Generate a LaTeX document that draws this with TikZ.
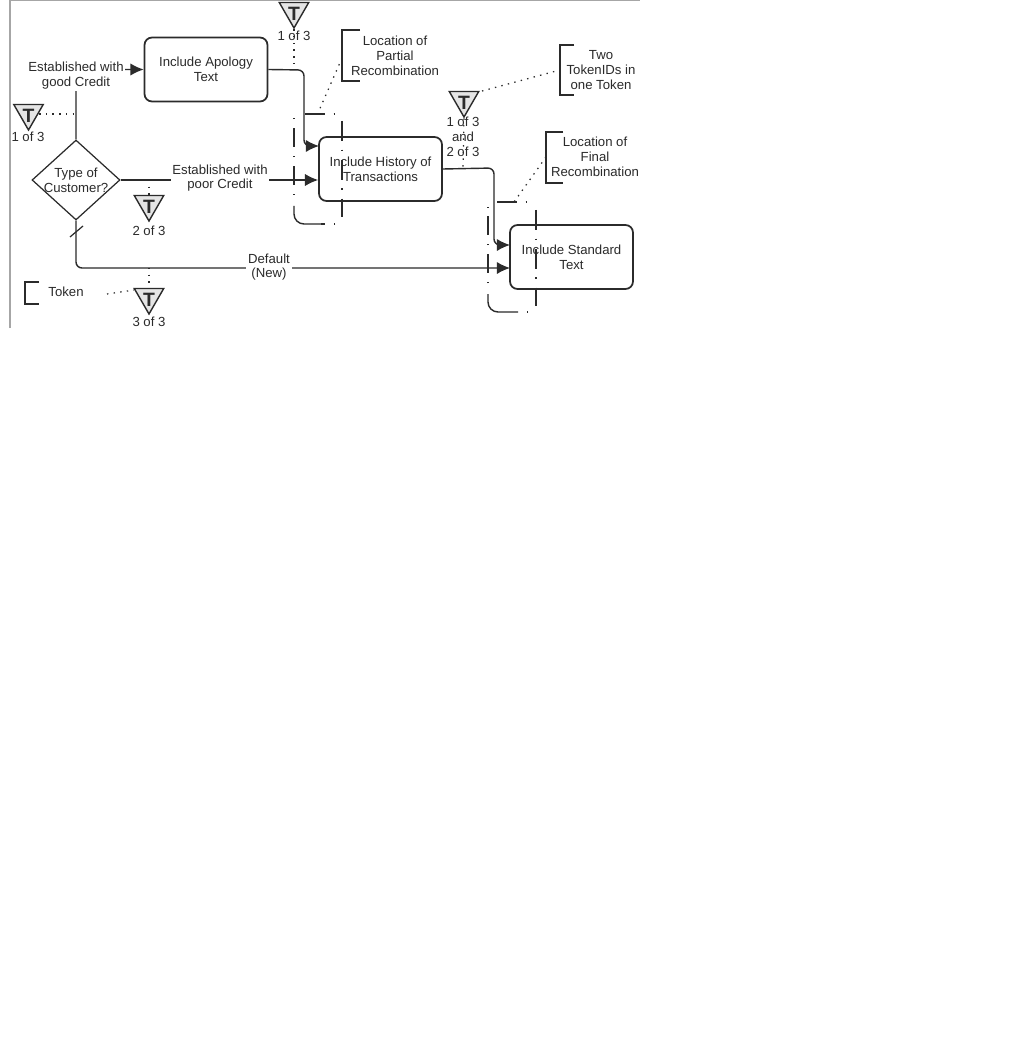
\documentclass[tikz,border=0pt]{standalone}
\usepackage{fontspec}
\setmainfont{Liberation Sans}
\usetikzlibrary{arrows.meta,shapes.geometric}
\definecolor{inkgray}{HTML}{2B2B2B}
\definecolor{framegray}{HTML}{A6A6A6}
\newcommand{\tokenT}{\makebox[0pt]{\smash{\raisebox{-5.4pt}{\fontsize{11}{11}\selectfont\textbf{T}}}}}
\tikzset{
    task/.style={draw=inkgray, line width=1pt, rounded corners=0.15cm, minimum width=2.46cm, minimum height=1.28cm, inner sep=0pt, align=center},
    gateway/.style={draw=inkgray, line width=0.7pt, diamond, aspect=1.1, minimum width=1.76cm, minimum height=1.6cm, inner sep=0pt},
    tokenmark/.style={draw=inkgray, line width=0.8pt, fill=black!10, regular polygon, regular polygon sides=3, shape border rotate=180, minimum size=0.68cm, inner sep=0pt},
    flow/.style={draw=inkgray, line width=0.8pt, rounded corners=0.12cm, -{Latex[length=7.5pt,width=7pt,quick]}},
    flowlabel/.style={fill=white, inner sep=1pt, align=center},
    note/.style={inner sep=0pt, align=center},
    assoc/.style={draw=inkgray, line width=0.7pt, dash pattern=on 0.8pt off 3pt},
    bracket/.style={draw=inkgray, line width=0.7pt},
    recomb/.style={draw=inkgray, line width=0.8pt, dash pattern=on 11.3pt off 5pt on 0.8pt off 5pt},
    recombdot/.style={draw=inkgray, line width=0.8pt, dash pattern=on 0.8pt off 5pt on 10.8pt off 5pt},
    recombend/.style={draw=inkgray, line width=0.8pt, rounded corners=0.2cm}
}
\begin{document}
\begin{tikzpicture}[x=0.02cm, y=-0.02cm, font=\fontsize{7.5}{8.4}\selectfont, text=inkgray]
    \useasboundingbox (0,0) rectangle (1009,1037);
    \fill[white] (0,0) rectangle (1009,1037);

    % Frame left of the screenshot
    \draw[framegray, line width=0.7pt] (10,328) -- (10,0.5) -- (640,0.5);

    % Tasks and the gateway
    \node[task] (apology) at (206,69.5) {Include Apology\\Text};
    \node[task] (history) at (380.5,169) {Include History of\\Transactions};
    \node[task] (standard) at (571.5,257) {Include Standard\\Text};
    \node[gateway, label={[align=center]center:Type of\\Customer?}] (customer) at (76,180) {};

    % Where the flows enter the tasks
    \coordinate (historytop) at (319,146);
    \coordinate (standardtop) at (510,245);
    \coordinate (standardlow) at (510,268);

    % Sequence flows
    \draw[flow] (customer.north) |- (apology.west);
    \draw[flow] (customer.east) -- (customer.east -| history.west);
    \draw[flow] (customer.south) |- (standardlow);
    \draw[flow] (apology.east) -- (304,70) -- (304,146) -- (historytop);
    \draw[flow] (history.east) -- (494,168) -- (494,245) -- (standardtop);
    \draw[inkgray, line width=0.7pt] (70,237) -- (83,226);

    % Labels on the flows
    \node[flowlabel] (goodlabel) at (76,75.5) {Established with\\good Credit};
    \node[flowlabel] (poorlabel) at (220,178) {Established with\\poor Credit};
    \node[flowlabel] (defaultlabel) at (269,267) {Default\\(New)};

    % Token markers
    \node[tokenmark] (tokengood) at (28.5,113) {\tokenT};
    \node[tokenmark] (tokenpoor) at (149,204) {\tokenT};
    \node[tokenmark] (tokendefault) at (149,297) {\tokenT};
    \node[tokenmark] (tokenapology) at (294,11) {\tokenT};
    \node[tokenmark] (tokenboth) at (464,100) {\tokenT};
    \node[note] (goodcount) at (28,137) {1 of 3};
    \node[note] (poorcount) at (149,231) {2 of 3};
    \node[note] (defaultcount) at (149,322) {3 of 3};
    \node[note] (apologycount) at (294,36) {1 of 3};
    \node[note] (bothcount) at (463,137) {1 of 3\\and\\2 of 3};

    % Partial recombination region
    \draw[recomb] (305,114) -- (335,114);
    \draw[recomb] (342,121) -- (342,217);
    \draw[recombdot] (335,224) -- (321,224);
    \draw[recombend] (321,224) -- (294,224) -- (294,206);
    \draw[recombdot] (294,195) -- (294,118);

    % Final recombination region
    \draw[recomb] (497,202) -- (529,202);
    \draw[recomb] (536,210) -- (536,306);
    \draw[recombdot] (528,312) -- (518,312);
    \draw[recombend] (518,312) -- (488,312) -- (488,294);
    \draw[recombdot] (488,283) -- (488,207);

    % Brackets and their texts
    \draw[bracket] (39,282) -- (25,282) -- (25,304) -- (39,304);
    \draw[bracket] (360,30) -- (342,30) -- (342,81) -- (360,81);
    \draw[bracket] (574,45) -- (560,45) -- (560,95) -- (574,95);
    \draw[bracket] (563,132) -- (546,132) -- (546,183) -- (563,183);
    \node[note] (tokennote) at (66,292) {Token};
    \node[note] (partialnote) at (395,56) {Location of\\Partial\\Recombination};
    \node[note] (twonote) at (601,70) {Two\\TokenIDs in\\one Token};
    \node[note] (finalnote) at (595,157) {Location of\\Final\\Recombination};

    % Dotted associations
    \coordinate (goodflow) at (76,114);
    \coordinate (poorflow) at (149,180);
    \coordinate (defaultflow) at (149,268);
    \coordinate (apologyflow) at (294,70);
    \coordinate (historyflow) at (463,168);
    \coordinate (partialregion) at (318,113);
    \coordinate (finalregion) at (514,202);
    \coordinate (partialbracket) at (342,58);
    \coordinate (twobracket) at (560,70);
    \coordinate (finalbracket) at (546,157);
    \coordinate (tokenend) at (107,294);
    \coordinate (twoend) at (482,91);
    \draw[assoc] (tokengood.east |- goodflow) -- (goodflow);
    \draw[assoc] (tokenpoor.north |- poorflow) -- (tokenpoor.north);
    \draw[assoc] (tokendefault.north |- defaultflow) -- (tokendefault.north);
    \draw[assoc] (tokenapology.south) -- (apologyflow);
    \draw[assoc] (tokenboth.south) -- (historyflow);
    \draw[assoc] (tokenend) -- (134,290);
    \draw[assoc] (partialbracket) -- (partialregion);
    \draw[assoc] (twoend) -- (twobracket);
    \draw[assoc] (finalbracket) -- (finalregion);
\end{tikzpicture}
\end{document}
